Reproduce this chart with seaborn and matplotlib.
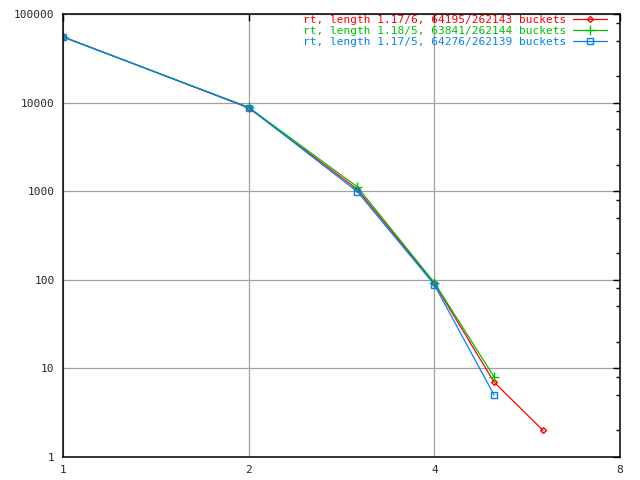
import numpy as np
import pandas as pd
import seaborn as sns
import matplotlib.pyplot as plt
import matplotlib.ticker as ticker

# values
x_red = [1, 2, 3, 4, 5, 6]
y_red = [55500, 8700, 1050, 91, 7, 2]
x_green = [1, 2, 3, 4, 5]
y_green = [55000, 8850, 1120, 93, 8]
x_blue = [1, 2, 3, 4, 5]
y_blue = [55000, 8800, 990, 88, 5]

labels = [
    "rt, length 1.17/6, 64195/262143 buckets",
    "rt, length 1.18/5, 63841/262144 buckets",
    "rt, length 1.17/5, 64276/262139 buckets",
]
colors = ["#ff0000", "#00c000", "#0080ff"]
markers = ["D", "+", "s"]
msizes = [3, 7, 4.5]

sns.set_style("white")
plt.rcParams['font.family'] = ['DejaVu Sans Mono']
plt.rcParams['font.size'] = 8.0

f = plt.figure(figsize=(6.4, 4.8), dpi=100)
ax = f.add_axes([63 / 640, 1 - 457 / 480, (620 - 63) / 640, (457 - 14) / 480])

series = [(x_red, y_red), (x_green, y_green), (x_blue, y_blue)]
for (xs, ys), lab, c, m, ms in zip(series, labels, colors, markers, msizes):
    df = pd.DataFrame({'len': xs, 'count': ys})
    sns.lineplot(data=df, x='len', y='count', color=c, marker=m, ms=ms,
                 mfc='none', mec=c, mew=1.0, lw=0.9, label=lab, ax=ax)

ax.set_xscale('log', base=2)
ax.set_yscale('log')
ax.set_xlim(1, 8)
ax.set_ylim(1, 100000)
ax.set(xlabel=None, ylabel=None)

ax.xaxis.set_major_locator(ticker.FixedLocator([1, 2, 4, 8]))
ax.xaxis.set_major_formatter(ticker.FuncFormatter(lambda v, _: f'{v:.0f}'))
ax.xaxis.set_minor_locator(ticker.NullLocator())
ax.yaxis.set_major_locator(ticker.LogLocator(base=10, numticks=10))
ax.yaxis.set_major_formatter(ticker.FuncFormatter(lambda v, _: f'{v:.0f}'))
ax.yaxis.set_minor_locator(ticker.LogLocator(base=10, subs=(2, 5, 8), numticks=10))
ax.yaxis.set_minor_formatter(ticker.NullFormatter())

ax.tick_params(which='both', direction='in', top=True, right=True,
               color='black', width=1, labelsize=8.0)
ax.tick_params(which='major', length=5, pad=6)
ax.tick_params(which='minor', length=3)
for s in ax.spines.values():
    s.set_color('black')
    s.set_linewidth(1.1)

ax.grid(which='major', color='#a0a0a0', linewidth=0.9)
ax.set_axisbelow(True)

leg = ax.legend(loc='upper right', bbox_to_anchor=((607 - 63) / 557, 0.998),
                frameon=False, markerfirst=False,
                fontsize=8.0, handlelength=3.1, handletextpad=0.6,
                labelspacing=0.08, borderpad=0.0, borderaxespad=0.0)
for t, c in zip(leg.get_texts(), colors):
    t.set_color(c)

plt.savefig('out.png', dpi=100)
